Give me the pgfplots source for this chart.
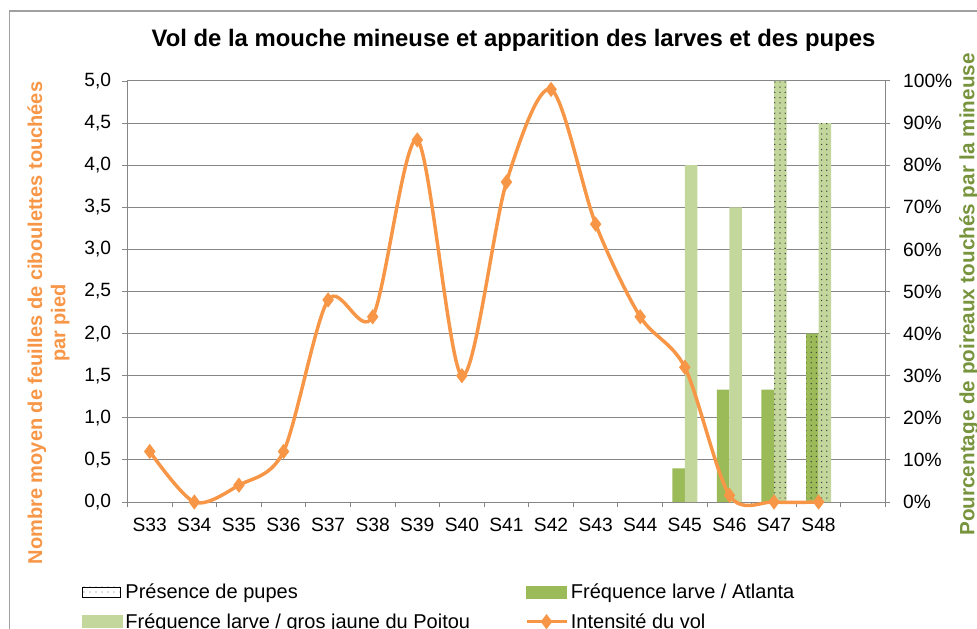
\documentclass[border=0pt]{standalone}
\usepackage{pgfplots}
\pgfplotsset{compat=1.18}
\usepackage{fontspec}
\setmainfont{Liberation Sans}
\usetikzlibrary{patterns.meta}
\definecolor{vol}{HTML}{F79646}
\definecolor{atl}{HTML}{9BBB59}
\definecolor{poi}{HTML}{C3D69B}
\definecolor{gtitle}{HTML}{77933C}
\definecolor{axgray}{HTML}{868686}
\definecolor{framegray}{HTML}{A0A0A0}
\begin{document}
\begin{tikzpicture}[x=0.75pt,y=0.75pt]
\useasboundingbox (0,0) rectangle (977,628);
\clip (0,0) rectangle (977,628);
\draw[color=framegray, line width=1.2pt] (9.5,-20) -- (9.5,617) -- (1000,617);
\node[font=\bfseries\fontsize{17.9}{20}\selectfont] at (513.5,588) {Vol de la mouche mineuse et apparition des larves et des pupes};
\node[rotate=90, align=center, text=vol, font=\bfseries\fontsize{15}{17.3}\selectfont] at (48.5,305) {Nombre moyen de feuilles de ciboulettes touchées\\par pied};
\node[rotate=90, text=gtitle, font=\bfseries\fontsize{15.5}{18}\selectfont] at (969,333.5) {Pourcentage de poireaux touchés par la mineuse};

\pgfplotsset{
  base/.style={
    at={(95.6pt,94.5pt)}, anchor=south west,
    scale only axis, width=568.5pt, height=315.75pt,
    xmin=-0.5, xmax=16.5,
    axis line style={axgray, line width=0.75pt},
    tick align=outside,
    major tick length=3.75pt,
    tick style={axgray, line width=0.75pt},
    tick label style={font=\fontsize{14.4}{16}\selectfont},
  }
}

\begin{axis}[base,
  ymin=0, ymax=100,
  xtick={-0.5,0.5,...,16.5},
  xticklabels={S33,S34,S35,S36,S37,S38,S39,S40,S41,S42,S43,S44,S45,S46,S47,S48,{}},
  xticklabel style={xshift=16.7pt, yshift=-5pt},
  xtick pos=left,
  ytick={0,10,...,100},
  yticklabels={0\%,10\%,20\%,30\%,40\%,50\%,60\%,70\%,80\%,90\%,100\%},
  yticklabel style={xshift=6pt},
  ytick pos=right, yticklabel pos=right,
  ymajorgrids, grid style={axgray, line width=0.75pt},
]
\addplot[ybar, bar width=9.4pt, bar shift=-4.7pt, fill=atl, draw=none] coordinates {(12,8) (13,26.7) (14,26.7) (15,40)};
\addplot[ybar, bar width=9.4pt, bar shift=4.7pt, fill=poi, draw=none] coordinates {(12,80) (13,70) (14,100) (15,90)};
\addplot[ybar, bar width=9.4pt, bar shift=4.7pt, draw=none, pattern={Dots[distance=3.9pt, radius=0.55pt]}, pattern color=black!75] coordinates {(14,100) (15,90)};
\addplot[ybar, bar width=9.4pt, bar shift=-4.7pt, draw=none, pattern={Dots[distance=3.9pt, radius=0.55pt]}, pattern color=black!75] coordinates {(15,40)};
\end{axis}

\begin{axis}[base,
  ymin=0, ymax=5,
  hide x axis,
  ytick={0,0.5,...,5},
  yticklabels={{0,0},{0,5},{1,0},{1,5},{2,0},{2,5},{3,0},{3,5},{4,0},{4,5},{5,0}},
  yticklabel style={xshift=-5pt},
  ytick pos=left,
  clip=false,
  legend columns=2,
  legend cell align=left,
  legend style={draw=none, fill=none, inner sep=0pt,
    at={(axis description cs:-0.060,-0.1876)}, anchor=north west,
    font=\fontsize{15}{17}\selectfont,
    /tikz/every even column/.append style={column sep=39pt},
    row sep=5.5pt},
]
\addlegendimage{legend image code/.code={\path[pattern={Dots[distance=4.5pt, radius=0.5pt]}, pattern color=black!60] (0pt,-4pt) rectangle (28pt,4pt);}}
\addlegendimage{legend image code/.code={\fill[atl] (0pt,-4.5pt) rectangle (30pt,4.5pt);}}
\addlegendimage{legend image code/.code={\fill[poi] (0pt,-4.5pt) rectangle (30pt,4.5pt);}}
\addlegendimage{legend image code/.code={\draw[vol, line width=2.6pt, mark repeat=2, mark phase=2, mark=diamond*, mark size=3.6pt, mark options={solid, fill=vol}] plot coordinates {(0pt,0pt) (15pt,0pt) (30pt,0pt)};}}
\addplot[vol, line width=2.6pt, smooth, tension=0.5, mark=diamond*, mark size=3.6pt, mark options={solid, fill=vol}, forget plot]
  coordinates {(0,0.6) (1,0) (2,0.2) (3,0.6) (4,2.4) (5,2.2) (6,4.3) (7,1.5) (8,3.8) (9,4.9) (10,3.3) (11,2.2) (12,1.6) (13,0.08) (14,0) (15,0)};
\legend{Présence de pupes, Fréquence larve / Atlanta, Fréquence larve / gros jaune du Poitou, Intensité du vol}
\end{axis}
\end{tikzpicture}
\end{document}
